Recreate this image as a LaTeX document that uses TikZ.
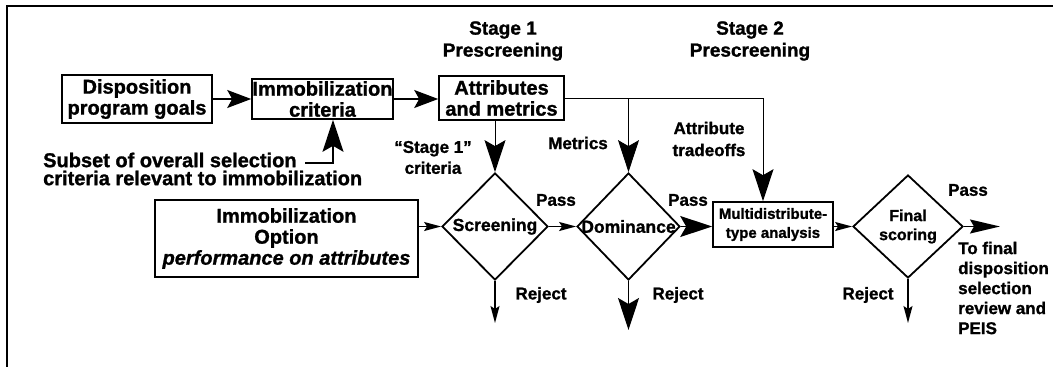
\documentclass[tikz,border=0pt]{standalone}
\usepackage{fontspec}
\setmainfont{Liberation Sans}[BoldFont={Liberation Sans Bold}, BoldItalicFont={Liberation Sans Bold Italic}, BoldFeatures={FakeBold=1.2}, BoldItalicFeatures={FakeBold=1.2}]
\usetikzlibrary{shapes.geometric,arrows.meta}
\begin{document}
\begin{tikzpicture}[x=1pt,y=-1pt,
  box/.style={draw, line width=1.6pt, inner sep=0pt, align=center, font=\fontsize{20}{21}\selectfont\bfseries},
  dia/.style={draw, diamond, line width=1.8pt, inner sep=0pt},
  lab/.style={inner sep=0pt, align=center, font=\fontsize{17}{20}\selectfont\bfseries},
  hdr/.style={lab, font=\fontsize{19}{22}\selectfont\bfseries},
  conn/.style={line width=1.5pt},
  thin/.style={line width=1pt},
  bigtip/.style={-{Stealth[length=32pt,width=21pt,inset=6pt]}},
  midtip/.style={-{Stealth[length=24pt,width=18pt,inset=5pt]}},
  passtip/.style={-{Stealth[length=30pt,width=14pt,inset=4pt]}},
  smalltip/.style={-{Stealth[length=17pt,width=9pt,inset=3pt]}},
]
\useasboundingbox (0,0) rectangle (1053,367);
\draw[line width=2pt] (7,367) -- (7,6) -- (1053,6);

% boxes
\node[box, minimum width=150, minimum height=48] (disp) at (137,99) {Disposition\\program goals};
\node[box, minimum width=141, minimum height=40] (immob) at (322.5,99) {Immobilization\\criteria};
\node[box, minimum width=125, minimum height=44] (attr) at (501.5,98) {Attributes\\and metrics};
\node[box, minimum width=263, minimum height=77] (opt) at (286.5,238.5) {Immobilization\\Option\\\textit{performance on attributes}};
\node[box, minimum width=120, minimum height=45, font=\fontsize{15}{19}\selectfont\bfseries] (multi) at (773,224.5) {Multidistribute-\\type analysis};

% diamonds
\node[dia, minimum width=106, minimum height=107] (scr) at (495,226.5) {};
\node[lab, font=\fontsize{17.5}{20}\selectfont\bfseries] (scrt) at (scr) {Screening};
\node[dia, minimum width=103, minimum height=107] (dom) at (628.5,226.5) {};
\node[lab, font=\fontsize{17.5}{20}\selectfont\bfseries] (domt) at (dom) {Dominance};
\node[dia, minimum width=110, minimum height=103] (fin) at (908,226.5) {};
\node[lab, font=\fontsize{16}{19}\selectfont\bfseries] (fint) at (fin) {Final\\scoring};

% labels
\node[hdr] (st1) at (503,41) {Stage 1\\Prescreening};
\node[hdr] (st2) at (750,41) {Stage 2\\Prescreening};
\node[lab, font=\fontsize{20}{18}\selectfont\bfseries, align=left, anchor=west] (sub) at (43,169) {Subset of overall selection\\criteria relevant to immobilization};
\node[lab, font=\fontsize{17}{21}\selectfont\bfseries] (c1) at (433,157.5) {“Stage 1”\\criteria};
\node[lab] (met) at (578,143) {Metrics};
\node[lab, font=\fontsize{17}{22}\selectfont\bfseries] (trade) at (709,139) {Attribute\\tradeoffs};
\node[lab] (p1) at (556,200) {Pass};
\node[lab] (p2) at (688,200) {Pass};
\node[lab] (p3) at (968,190) {Pass};
\node[lab] (r1) at (541,295) {Reject};
\node[lab] (r2) at (678,295) {Reject};
\node[lab] (r3) at (868,295) {Reject};
\node[lab, align=left, anchor=west] (tofin) at (958,288) {To final\\disposition\\selection\\review and\\PEIS};

% coordinates
\coordinate (subend) at (305,163);
\coordinate (subcorner) at (333,163);
\coordinate (tr) at (763,98);
\coordinate (out) at (1000,226.5);
\coordinate (rj1) at (495,323);
\coordinate (rj2) at (628.5,330);
\coordinate (rj3) at (908,323);

% connectors
\draw[conn, midtip] (disp.east) -- (disp.east -| immob.west);
\draw[conn, midtip] (immob.east) -- (immob.east -| attr.west);
\draw[conn, bigtip] (subend) -- (subcorner) -- (immob.south -| subcorner);
\draw[thin] (attr.east) -- (tr);
\draw[thin, bigtip] (tr) -- (tr |- multi.north);
\draw[thin, bigtip] (attr.east -| dom.north) -- (dom.north);
\draw[thin, bigtip] (attr.south -| scr.north) -- (scr.north);
\draw[conn, smalltip] (opt.east |- scr.west) -- (scr.west);
\draw[conn, smalltip] (scr.east) -- (dom.west);
\draw[conn, bigtip] (dom.east) -- (dom.east -| multi.west);
\draw[conn, smalltip] (multi.east |- fin.west) -- (fin.west);
\draw[conn, passtip] (fin.east) -- (out);
\draw[conn, smalltip] (scr.south) -- (rj1);
\draw[conn, bigtip] (dom.south) -- (rj2);
\draw[conn, smalltip] (fin.south) -- (rj3);
\end{tikzpicture}
\end{document}
